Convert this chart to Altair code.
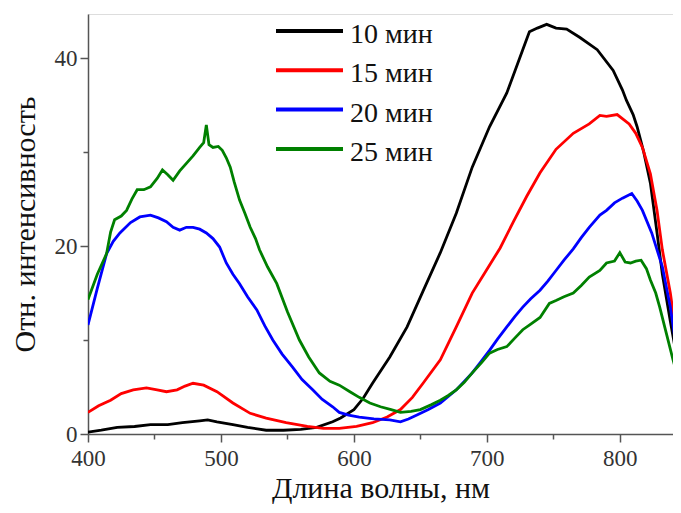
import altair as alt
import pandas as pd

# ---- data ----
series_names = ["10 мин", "15 мин", "20 мин", "25 мин"]
series_colors = ["#000000", "#ff0000", "#0000ff", "#008000"]

wl_10 = [400, 410, 422, 435, 447, 460, 471, 484, 490, 497, 509, 520, 534, 547, 560, 572, 584, 590,
         600, 607, 614, 627, 640, 652, 665, 677, 689, 702, 715, 727, 732, 738, 745, 752, 760, 770,
         783, 795, 802, 805, 810, 813, 818, 823, 828, 832, 838, 843, 846]
int_10 = [0.2, 0.4, 0.7, 0.8, 1.0, 1.0, 1.2, 1.4, 1.5, 1.3, 1.0, 0.7, 0.4, 0.4, 0.5, 0.7, 1.3, 1.7,
          2.6, 3.8, 5.4, 8.2, 11.4, 15.2, 19.3, 23.5, 28.4, 32.7, 36.3, 40.9, 42.8, 43.2, 43.6, 43.2, 43.1, 42.2,
          40.9, 38.7, 36.6, 35.5, 34.0, 32.7, 30.0, 26.7, 21.4, 17.0, 12.0, 8.0, 5.8]

wl_15 = [400, 408, 417, 425, 434, 444, 452, 459, 467, 473, 479, 487, 497, 509, 522, 534, 549, 565,
         577, 589, 602, 614, 625, 635, 644, 652, 665, 677, 689, 700, 710, 720, 730, 740, 752, 765,
         777, 785, 790, 798, 807, 812, 817, 823, 828, 832, 838, 843, 846]
int_15 = [2.3, 3.0, 3.6, 4.3, 4.7, 4.9, 4.7, 4.5, 4.7, 5.1, 5.4, 5.2, 4.5, 3.3, 2.2, 1.7, 1.2, 0.8,
          0.6, 0.6, 0.8, 1.2, 1.8, 2.6, 3.9, 5.4, 7.9, 11.4, 15.0, 17.5, 19.8, 22.6, 25.3, 27.8, 30.3, 32.0,
          33.0, 33.9, 33.8, 34.0, 33.0, 32.0, 30.5, 27.7, 23.8, 19.6, 15.0, 10.0, 6.0]

wl_20 = [400, 407, 414, 419, 424, 432, 439, 447, 453, 459, 464, 469, 474, 479, 484, 489, 494, 499,
         504, 509, 514, 520, 527, 533, 539, 546, 554, 561, 569, 576, 584, 589, 596, 604, 615, 627,
         635, 641, 647, 656, 665, 671, 677, 683, 689, 695, 702, 708, 715, 721, 727, 733, 740, 746,
         752, 758, 765, 771, 777, 785, 790, 796, 802, 809, 813, 817, 824, 828, 832, 838, 843, 846]
int_20 = [11.6, 15.5, 19.2, 20.5, 21.4, 22.5, 23.1, 23.3, 23.0, 22.6, 22.0, 21.7, 22.0, 22.0, 21.8, 21.4, 20.8, 19.9,
          18.2, 17.0, 16.0, 14.6, 13.2, 11.5, 10.0, 8.5, 7.1, 5.8, 4.7, 3.7, 2.9, 2.3, 2.0, 1.8, 1.6, 1.5,
          1.3, 1.6, 2.0, 2.6, 3.3, 4.0, 4.7, 5.6, 6.5, 7.6, 8.9, 10.1, 11.4, 12.5, 13.5, 14.4, 15.3, 16.3,
          17.4, 18.5, 19.7, 20.9, 22.0, 23.3, 23.8, 24.6, 25.1, 25.6, 24.8, 23.8, 21.4, 19.6, 17.8, 13.5, 8.6, 5.8]

wl_25 = [400, 407, 414, 417, 420, 425, 429, 433, 437, 442, 447, 452, 456, 460, 464, 469, 474, 479,
         484, 487, 489, 491, 494, 498, 501, 504, 507, 510, 514, 518, 522, 526, 529, 535, 542, 550,
         559, 566, 574, 582, 589, 597, 604, 612, 620, 628, 635, 643, 650, 658, 665, 671, 677, 683,
         689, 696, 702, 708, 715, 721, 727, 733, 740, 747, 752, 758, 765, 771, 777, 785, 790, 796,
         800, 804, 808, 812, 816, 820, 823, 827, 830, 835, 840, 846]
int_25 = [14.3, 17.0, 19.2, 21.5, 22.8, 23.2, 23.8, 25.0, 26.0, 26.0, 26.3, 27.2, 28.1, 27.6, 27.0, 28.0, 28.8, 29.6,
          30.5, 31.0, 32.9, 30.8, 30.5, 30.6, 30.2, 29.4, 28.4, 26.8, 24.9, 23.5, 22.0, 20.8, 19.6, 17.8, 16.0, 13.0,
          10.0, 8.2, 6.5, 5.6, 5.2, 4.5, 3.9, 3.3, 2.9, 2.6, 2.3, 2.4, 2.6, 3.1, 3.6, 4.1, 4.7, 5.5,
          6.5, 7.6, 8.6, 9.0, 9.3, 10.2, 11.1, 11.7, 12.4, 13.9, 14.2, 14.6, 15.0, 15.8, 16.7, 17.4, 18.2, 18.4,
          19.3, 18.3, 18.2, 18.4, 18.5, 17.6, 16.4, 15.0, 13.5, 10.7, 7.9, 4.8]

x_ticks = [400, 450, 500, 550, 600, 650, 700, 750, 800]
y_ticks = [0, 10, 20, 30, 40]

x_title = "Длина волны, нм"
y_title = "Отн. интенсивность"

# ---- build tables ----
frames = []
for name, xs, ys in zip(series_names, [wl_10, wl_15, wl_20, wl_25], [int_10, int_15, int_20, int_25]):
    frames.append(pd.DataFrame({"wl": xs, "val": ys, "series": name}))
df = pd.concat(frames, ignore_index=True)
df["ord"] = df.index

legend_df = pd.DataFrame({"series": series_names, "idx": list(range(len(series_names)))})

FONT = "Liberation Serif"
color_scale = alt.Scale(domain=series_names, range=series_colors)

lines = alt.Chart(df).mark_line(strokeWidth=2.8, clip=True).encode(
    x=alt.X("wl:Q",
            scale=alt.Scale(domain=[400, 840], nice=False, zero=False),
            axis=alt.Axis(values=x_ticks,
                          labelExpr="datum.value % 100 == 0 ? datum.label : ''",
                          tickSize={"condition": {"test": "datum.value % 100 != 0", "value": 5}, "value": 8},
                          title=x_title, titleFontSize=30, titleFont=FONT, titleFontWeight="normal",
                          titleColor="#111111", titlePadding=3,
                          labelFont=FONT, labelFontSize=23, labelColor="#333333", labelPadding=5,
                          domainColor="#555555", domainWidth=1.5, tickColor="#555555", tickWidth=1.5,
                          grid=False, labelFlush=False)),
    y=alt.Y("val:Q",
            scale=alt.Scale(domain=[0, 44.7], nice=False, zero=False),
            axis=alt.Axis(values=y_ticks,
                          labelExpr="datum.value % 20 == 0 ? datum.label : ''",
                          tickSize={"condition": {"test": "datum.value % 20 != 0", "value": 5}, "value": 8},
                          title=y_title, titleFontSize=30, titleFont=FONT, titleFontWeight="normal",
                          titleColor="#111111", titlePadding=14,
                          labelFont=FONT, labelFontSize=23, labelColor="#333333", labelPadding=3,
                          domainColor="#555555", domainWidth=1.5, tickColor="#555555", tickWidth=1.5,
                          grid=False, labelFlush=False)),
    color=alt.Color("series:N", scale=color_scale, legend=None),
    order=alt.Order("ord:Q"),
    detail="series:N",
)

leg_base = alt.Chart(legend_df).transform_calculate(ly="17 + 39.3 * datum.idx")

leg_rules = leg_base.mark_rule(strokeWidth=4).encode(
    x=alt.value(188), x2=alt.value(255),
    y=alt.Y("ly:Q", scale=None),
    color=alt.Color("series:N", scale=color_scale, legend=None),
)

leg_text = leg_base.mark_text(align="left", baseline="alphabetic", dy=12, font=FONT,
                              fontSize=28, color="#111111").encode(
    x=alt.value(262),
    y=alt.Y("ly:Q", scale=None),
    text="series:N",
)

chart = alt.layer(lines, leg_rules, leg_text).properties(
    width=585, height=420,
    autosize=alt.AutoSizeParams(type="none"),
    padding={"left": 80, "top": 6, "right": 0, "bottom": 71},
).configure_view(stroke=None).configure(background="white")

chart.save("out.html", embed_options={"renderer": "svg", "actions": False})
